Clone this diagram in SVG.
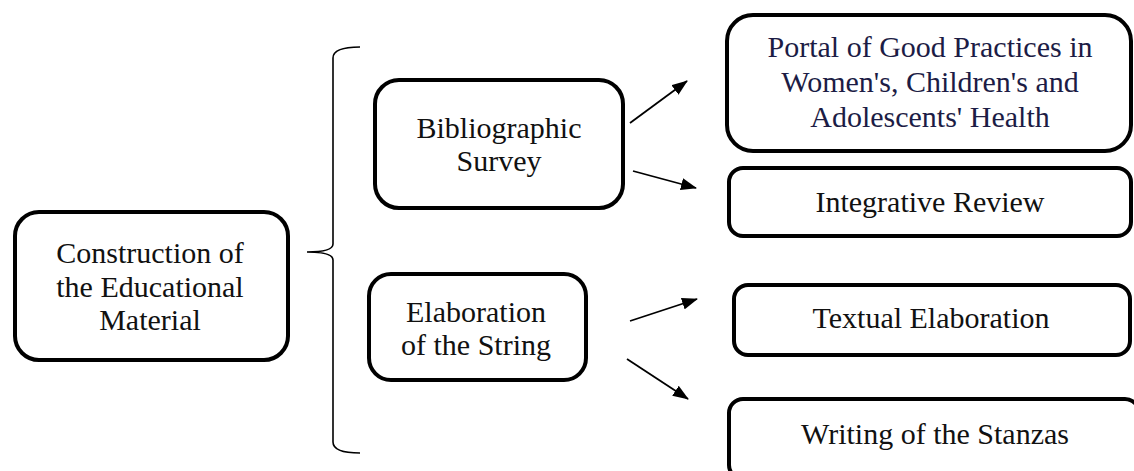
<svg xmlns="http://www.w3.org/2000/svg" width="1134" height="471" viewBox="0 0 1134 471">
<defs>
<style>
.box{fill:#fff;stroke:#000;stroke-width:4}
.t{font-family:"Liberation Serif","Times New Roman",serif;font-size:30px;fill:#111;text-anchor:middle}
.navy{fill:#1c1c45}
.ln{stroke:#000;stroke-width:1.8;fill:none}
.br{stroke:#000;stroke-width:1.6;fill:none}
</style>
<marker id="ah" viewBox="0 0 16 12" refX="15" refY="6" markerWidth="16" markerHeight="12" markerUnits="userSpaceOnUse" orient="auto">
<path d="M0,0 L16,6 L0,12 z" fill="#000"/>
</marker>
</defs>
<rect width="1134" height="471" fill="#fff"/>
<g id="construction">
<rect class="box" x="15" y="212" width="273" height="148" rx="24"/>
<text class="t" x="150" y="263">Construction of</text>
<text class="t" x="150" y="297">the Educational</text>
<text class="t" x="150" y="330">Material</text>
</g>
<g id="bibliographic">
<rect class="box" x="375" y="80" width="248" height="128" rx="24"/>
<text class="t" x="499" y="138">Bibliographic</text>
<text class="t" x="499" y="171">Survey</text>
</g>
<g id="elaboration">
<rect class="box" x="369" y="274" width="217" height="106" rx="22"/>
<text class="t" x="476" y="322">Elaboration</text>
<text class="t" x="476" y="355">of the String</text>
</g>
<g id="portal">
<rect class="box" x="727" y="15" width="404" height="136" rx="26"/>
<text class="t navy" x="930" y="57">Portal of Good Practices in</text>
<text class="t navy" x="930" y="92">Women's, Children's and</text>
<text class="t navy" x="930" y="127">Adolescents' Health</text>
</g>
<g id="integrative">
<rect class="box" x="729" y="168" width="402" height="68" rx="14"/>
<text class="t" x="930" y="212">Integrative Review</text>
</g>
<g id="textual">
<rect class="box" x="734" y="285" width="396" height="70" rx="14"/>
<text class="t" x="931" y="328">Textual Elaboration</text>
</g>
<g id="writing">
<rect class="box" x="729" y="399" width="410" height="80" rx="14"/>
<text class="t" x="935" y="444">Writing of the Stanzas</text>
</g>
<g id="connectors">
<path class="br" d="M360,47 Q333,47 333,58 L333,244 Q333,252 307,252 Q333,252 333,260 L333,442 Q333,453 360,453"/>
<line class="ln" x1="630" y1="123" x2="687" y2="81" marker-end="url(#ah)"/>
<line class="ln" x1="633" y1="171" x2="696" y2="188" marker-end="url(#ah)"/>
<line class="ln" x1="630" y1="321" x2="697" y2="299" marker-end="url(#ah)"/>
<line class="ln" x1="627" y1="359" x2="688" y2="399" marker-end="url(#ah)"/>
</g>
</svg>
